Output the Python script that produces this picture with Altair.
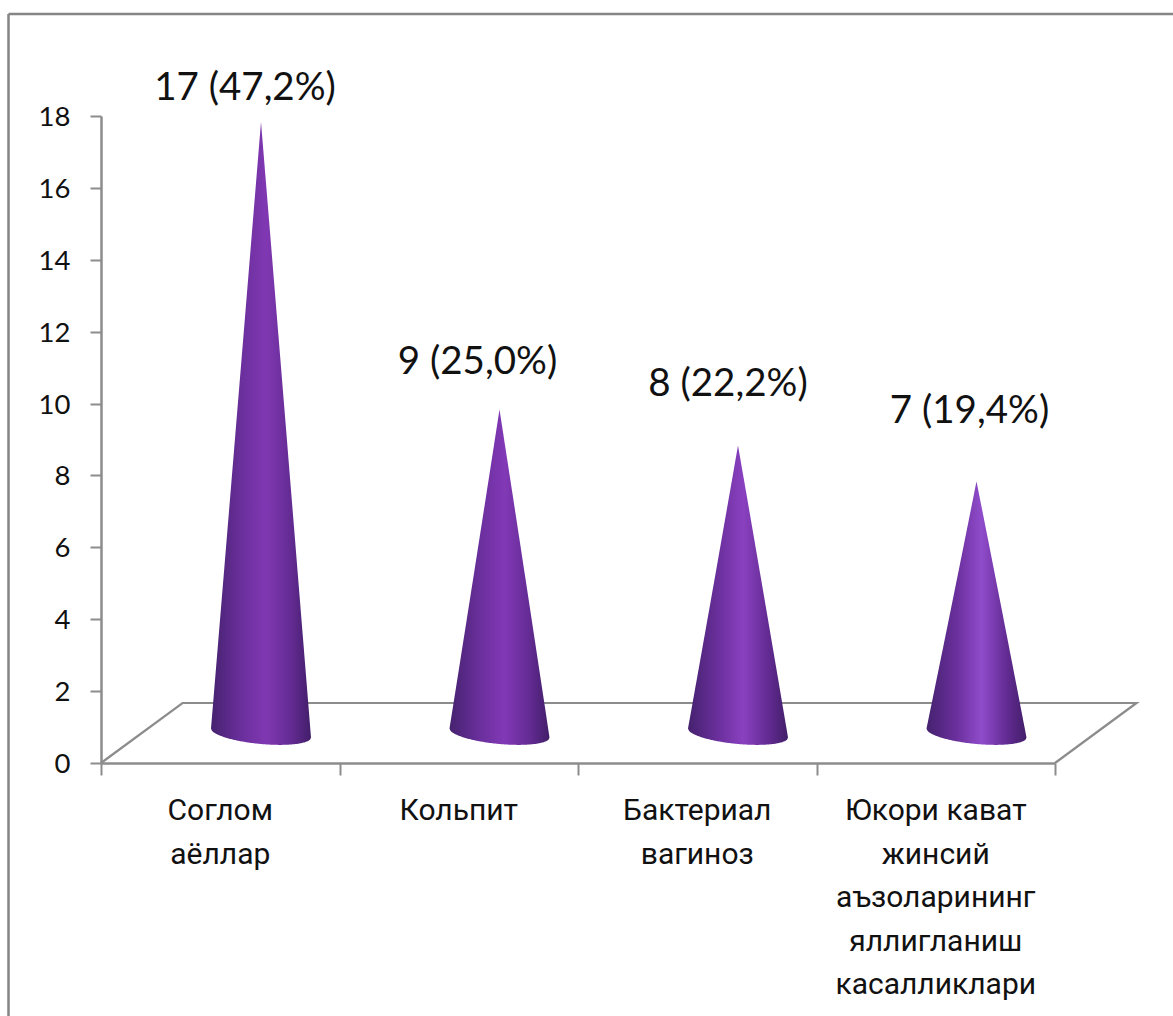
import altair as alt
import numpy as np
import pandas as pd

# Chart values
categories = [
    ["Соглом", "аёллар"],
    ["Кольпит"],
    ["Бактериал", "вагиноз"],
    ["Юкори кават", "жинсий", "аъзоларининг", "яллигланиш", "касалликлари"],
]
counts = [17, 9, 8, 7]
percents = ["47,2", "25,0", "22,2", "19,4"]
y_ticks = [0, 2, 4, 6, 8, 10, 12, 14, 16, 18]
x_ticks = [0, 1, 2, 3, 4]

# Layout of the pseudo-3D plot, in pixels
PLOT_W, PLOT_H = 954, 647
PAD = {"left": 101, "top": 116, "right": 118, "bottom": 253}
PX_X = PLOT_W / 4
PX_Y = PLOT_H / 18
DEPTH_X = 81.5 / PX_X          # how far the floor recedes to the right
DEPTH_Y = 60 / PX_Y            # and upwards
CONE_HALF = 50 / PX_X
CONE_LIFT = 30 / PX_Y          # cones stand mid-way across the floor
RIM_TILT = 4.5 / PX_Y
RIM_DROP = 11 / PX_Y
LABEL_NUDGE_X = [-16, -22, -10, -7]
LABEL_NUDGE_Y = [22, 36, 49, 58]
CONE_GLOW = ["#8038b2", "#8239b6", "#8a41c0", "#904ccb"]

AXIS_GREY = "#8c8c8c"
FONT_NUM = "Lato"
FONT_CAT = "Roboto"

xs = alt.Scale(domain=[0, 4], nice=False, zero=False)
ys = alt.Scale(domain=[0, 18], nice=False, zero=False)
x_axis = alt.Axis(
    values=x_ticks, labels=False, title=None, grid=False,
    tickSize=12, tickWidth=2, tickColor=AXIS_GREY,
    domainColor=AXIS_GREY, domainWidth=2.5,
)
y_axis = alt.Axis(
    values=y_ticks, title=None, grid=False, tickSize=11, tickWidth=2,
    tickColor=AXIS_GREY, domainColor=AXIS_GREY, domainWidth=2.5,
    labelFont=FONT_NUM, labelFontSize=27.5, labelColor="#111111",
    labelPadding=20, labelOffset=1.5,
)


def X(field):
    return alt.X(field, type="quantitative", scale=xs, axis=x_axis)


def Y(field):
    return alt.Y(field, type="quantitative", scale=ys, axis=y_axis)


# Floor outline behind the cones
floor = pd.DataFrame({
    "x": [0, DEPTH_X, 4 + DEPTH_X, 4],
    "y": [0, DEPTH_Y, DEPTH_Y, 0],
    "order": [0, 1, 2, 3],
})
floor_line = alt.Chart(floor).mark_line(color=AXIS_GREY, strokeWidth=2.2).encode(
    x=X("x"), y=Y("y"), order="order:O"
)

# Outer frame of the chart area: top and left edges only
frame_top = alt.Chart(pd.DataFrame({"k": [0]})).mark_rule(color="#858585", strokeWidth=2.5).encode(
    x=alt.value(-92.5), x2=alt.value(1072), y=alt.value(-102)
)
frame_left = alt.Chart(pd.DataFrame({"k": [0]})).mark_rule(color="#858585", strokeWidth=2.5).encode(
    x=alt.value(-92.5), y=alt.value(-102), y2=alt.value(900)
)


def cone_layer(i, value):
    t = np.linspace(-1, 1, 121)
    centre = i + 0.5 + DEPTH_X / 2
    rim_mid = CONE_LIFT - RIM_TILT * t
    apex = value + CONE_LIFT
    top = apex + (rim_mid - apex) * np.abs(t)
    bottom = rim_mid - RIM_DROP * np.sqrt(1 - t ** 2)
    shape = pd.DataFrame({"x": centre + CONE_HALF * t, "top": top, "bottom": bottom})
    fill = {
        "gradient": "linear", "x1": 0, "x2": 1, "y1": 0, "y2": 0,
        "stops": [
            {"offset": 0, "color": "#45226f"},
            {"offset": 0.3, "color": "#6a2f9c"},
            {"offset": 0.55, "color": CONE_GLOW[i]},
            {"offset": 0.8, "color": "#632b93"},
            {"offset": 1, "color": "#421e69"},
        ],
    }
    return alt.Chart(shape).mark_area(color=fill, interpolate="linear").encode(
        x=X("x"), y=Y("top"), y2=alt.Y2("bottom")
    )


cones = [cone_layer(i, v) for i, v in enumerate(counts)]

# Value labels above each cone
labels = pd.DataFrame({
    "x": [i + 0.5 + DEPTH_X / 2 + n / PX_X for i, n in enumerate(LABEL_NUDGE_X)],
    "y": [v + CONE_LIFT + n / PX_Y for v, n in zip(counts, LABEL_NUDGE_Y)],
    "text": [f"{v} ({p}%)" for v, p in zip(counts, percents)],
})
value_text = alt.Chart(labels).mark_text(
    font=FONT_NUM, fontSize=38.5, color="#111111", align="center", baseline="alphabetic"
).encode(x=X("x"), y=Y("y"), text="text:N")

# Category names under the floor
cats = pd.DataFrame({"x": [i + 0.5 for i in range(4)], "text": categories})
cat_text = alt.Chart(cats).mark_text(
    font=FONT_CAT, fontSize=30, color="#111111", align="center", baseline="top",
    lineHeight=43.5, dy=33
).encode(x=X("x"), y=alt.value(PLOT_H), text="text")

chart = alt.layer(floor_line, *cones, value_text, cat_text, frame_top, frame_left).properties(
    width=PLOT_W, height=PLOT_H, padding=PAD,
    autosize=alt.AutoSizeParams(type="none"),
    background="white",
).configure_view(stroke=None)

chart.save("out.html", embed_options={"renderer": "svg", "actions": False})
